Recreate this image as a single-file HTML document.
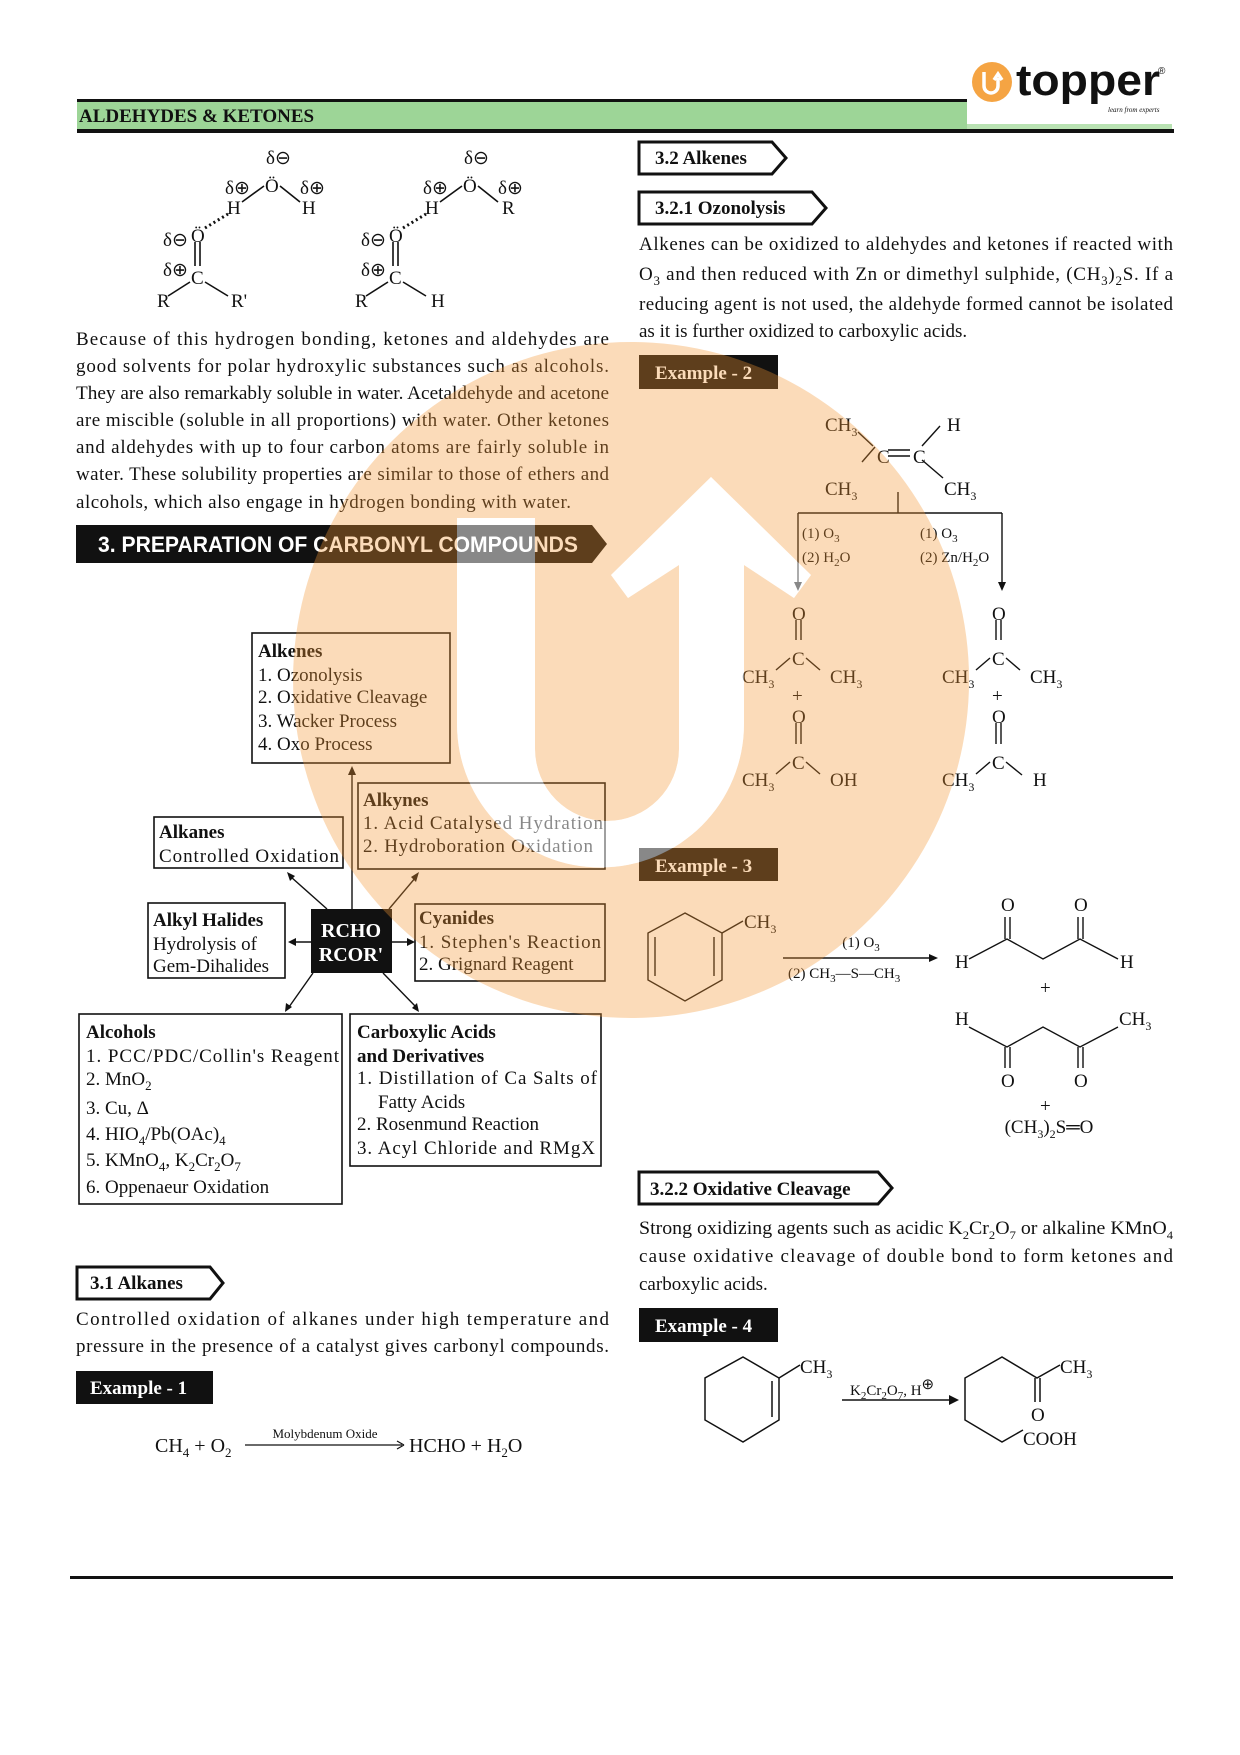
<!DOCTYPE html>
<html><head><meta charset="utf-8"><style>
html,body{margin:0;padding:0;background:#fff;}
svg{display:block;}
text{font-family:"Liberation Serif",serif;fill:#111;}
.b{font-weight:bold;}
.s{font-family:"Liberation Sans",sans-serif;}
</style></head><body>
<svg width="1240" height="1755" viewBox="0 0 1240 1755" xmlns="http://www.w3.org/2000/svg">
<!-- header -->
<rect x="77" y="99" width="890" height="3" fill="#111"/>
<rect x="77" y="102" width="890" height="27" fill="#9dd597"/>
<rect x="967" y="124" width="205" height="5" fill="#b9e2b3"/>
<rect x="77" y="129" width="1097" height="4" fill="#111"/>
<text x="79" y="122" class="b" font-size="19">ALDEHYDES &amp; KETONES</text>
<circle cx="992" cy="82" r="20" fill="#f5a443"/>
<path d="M984,72 V86 A7,7 0 0 0 998,86 V78 M994,80 L998,74 L1002,80" stroke="#fff" stroke-width="3.5" fill="none"/>
<text x="1016" y="95" class="s b" font-size="44" textLength="144" lengthAdjust="spacingAndGlyphs">topper</text>
<text x="1158" y="74" class="s" font-size="10">®</text>
<text x="1108" y="112" font-size="7" font-style="italic">learn from experts</text>

<!-- H-bond structures -->
<g font-size="19" stroke="#111" stroke-width="1.6" fill="none">
<g id="hb1">
<line x1="242" y1="202" x2="264" y2="186"/><line x1="280" y1="186" x2="300" y2="202"/>
<line x1="195" y1="242" x2="195" y2="266"/><line x1="200" y1="242" x2="200" y2="266"/>
<line x1="190" y1="282" x2="168" y2="296"/><line x1="205" y1="282" x2="228" y2="296"/>
<path d="M205,228 L228,214" stroke-dasharray="2,3" stroke-width="3"/>
</g>
<g transform="translate(198,0)">
<line x1="242" y1="202" x2="264" y2="186"/><line x1="280" y1="186" x2="300" y2="202"/>
<line x1="195" y1="242" x2="195" y2="266"/><line x1="200" y1="242" x2="200" y2="266"/>
<line x1="190" y1="282" x2="168" y2="296"/><line x1="205" y1="282" x2="228" y2="296"/>
<path d="M205,228 L228,214" stroke-dasharray="2,3" stroke-width="3"/>
</g>
</g>
<g font-size="19">
<text x="266" y="164">δ⊖</text><text x="265" y="192">Ö</text>
<text x="225" y="194">δ⊕</text><text x="300" y="194">δ⊕</text>
<text x="227" y="214">H</text><text x="302" y="214">H</text>
<text x="191" y="242">Ö</text><text x="163" y="246">δ⊖</text>
<text x="163" y="276">δ⊕</text><text x="191" y="284">C</text>
<text x="157" y="307">R</text><text x="231" y="307">R'</text>
<text x="464" y="164">δ⊖</text><text x="463" y="192">Ö</text>
<text x="423" y="194">δ⊕</text><text x="498" y="194">δ⊕</text>
<text x="425" y="214">H</text><text x="502" y="214">R</text>
<text x="389" y="242">Ö</text><text x="361" y="246">δ⊖</text>
<text x="361" y="276">δ⊕</text><text x="389" y="284">C</text>
<text x="355" y="307">R</text><text x="431" y="307">H</text>
</g>

<!-- left paragraph -->
<g font-size="19">
<text x="76" y="345" textLength="533" lengthAdjust="spacing">Because of this hydrogen bonding, ketones and aldehydes are</text>
<text x="76" y="372" textLength="533" lengthAdjust="spacing">good solvents for polar hydroxylic substances such as alcohols.</text>
<text x="76" y="399" textLength="533" lengthAdjust="spacingAndGlyphs">They are also remarkably soluble in water. Acetaldehyde and acetone</text>
<text x="76" y="426" textLength="533" lengthAdjust="spacing">are miscible (soluble in all proportions) with water. Other ketones</text>
<text x="76" y="453" textLength="533" lengthAdjust="spacing">and aldehydes with up to four carbon atoms are fairly soluble in</text>
<text x="76" y="480" textLength="533" lengthAdjust="spacing">water. These solubility properties are similar to those of ethers and</text>
<text x="76" y="508" textLength="495" lengthAdjust="spacing">alcohols, which also engage in hydrogen bonding with water.</text>
</g>

<!-- banner -->
<path d="M76,525 H592 L607,544 L592,563 H76 Z" fill="#111"/>
<text x="98" y="552" class="s b" font-size="22" fill="#fff" style="fill:#fff" textLength="480" lengthAdjust="spacingAndGlyphs">3.  PREPARATION OF CARBONYL COMPOUNDS</text>

<!-- flowchart boxes -->
<g fill="none" stroke="#111" stroke-width="1.6">
<rect x="252" y="633" width="198" height="130"/>
<rect x="358" y="783" width="247" height="86"/>
<rect x="154" y="817" width="189" height="51"/>
<rect x="148" y="903" width="137" height="75"/>
<rect x="415" y="904" width="190" height="77"/>
<rect x="79" y="1014" width="263" height="190"/>
<rect x="350" y="1014" width="251" height="152"/>
</g>
<rect x="311" y="909" width="81" height="64" fill="#111"/>
<g stroke="#111" stroke-width="1.4">
<line x1="352" y1="909" x2="352" y2="772"/>
<line x1="327" y1="909" x2="291" y2="877"/>
<line x1="389" y1="909" x2="416" y2="877"/>
<line x1="311" y1="942" x2="293" y2="942"/>
<line x1="392" y1="942" x2="410" y2="942"/>
<line x1="313" y1="973" x2="289" y2="1007"/>
<line x1="383" y1="973" x2="416" y2="1007"/>
</g>
<g fill="#111">
<path d="M352,766 l-4,9 h8z"/>
<path d="M287,872 l3,9 l5,-5z"/>
<path d="M419,872 l-8,5 l5,5z"/>
<path d="M288,942 l8,-4 v8z"/>
<path d="M415,942 l-8,-4 v8z"/>
<path d="M285,1012 l1,-9 l6,4z"/>
<path d="M419,1012 l-7,-4 l5,-5z"/>
</g>
<g font-size="19">
<text x="258" y="657" class="b">Alkenes</text>
<text x="258" y="681">1. Ozonolysis</text>
<text x="258" y="703">2. Oxidative Cleavage</text>
<text x="258" y="727">3. Wacker Process</text>
<text x="258" y="750">4. Oxo Process</text>
<text x="363" y="806" class="b">Alkynes</text>
<text x="363" y="829" textLength="240">1. Acid Catalysed Hydration</text>
<text x="363" y="852" textLength="230">2. Hydroboration Oxidation</text>
<text x="159" y="838" class="b">Alkanes</text>
<text x="159" y="862" textLength="180">Controlled Oxidation</text>
<text x="153" y="926" class="b">Alkyl Halides</text>
<text x="153" y="950">Hydrolysis of</text>
<text x="153" y="972">Gem-Dihalides</text>
<text x="351" y="937" class="b" text-anchor="middle" style="fill:#fff" font-size="20">RCHO</text>
<text x="351" y="961" class="b" text-anchor="middle" style="fill:#fff" font-size="20">RCOR'</text>
<text x="419" y="924" class="b">Cyanides</text>
<text x="419" y="948" textLength="182">1. Stephen's Reaction</text>
<text x="419" y="970">2. Grignard Reagent</text>
<text x="86" y="1038" class="b">Alcohols</text>
<text x="86" y="1062" textLength="253">1. PCC/PDC/Collin's Reagent</text>
<text x="86" y="1085">2. MnO<tspan font-size="13" dy="5">2</tspan></text>
<text x="86" y="1114">3. Cu, Δ</text>
<text x="86" y="1140">4. HIO<tspan font-size="13" dy="5">4</tspan><tspan dy="-5">/Pb(OAc)</tspan><tspan font-size="13" dy="5">4</tspan></text>
<text x="86" y="1166">5. KMnO<tspan font-size="13" dy="5">4</tspan><tspan dy="-5">, K</tspan><tspan font-size="13" dy="5">2</tspan><tspan dy="-5">Cr</tspan><tspan font-size="13" dy="5">2</tspan><tspan dy="-5">O</tspan><tspan font-size="13" dy="5">7</tspan></text>
<text x="86" y="1193">6. Oppenaeur Oxidation</text>
<text x="357" y="1038" class="b">Carboxylic Acids</text>
<text x="357" y="1062" class="b">and Derivatives</text>
<text x="357" y="1084" textLength="240">1. Distillation of Ca Salts of</text>
<text x="378" y="1108">Fatty Acids</text>
<text x="357" y="1130">2. Rosenmund Reaction</text>
<text x="357" y="1154" textLength="238">3. Acyl Chloride and RMgX</text>
</g>

<!-- 3.1 Alkanes -->
<path d="M77,1267 H210 L223,1283 L210,1299 H77 Z" fill="#fff" stroke="#111" stroke-width="3"/>
<text x="90" y="1289" class="b" font-size="19">3.1  Alkanes</text>
<g font-size="19">
<text x="76" y="1325" textLength="533" lengthAdjust="spacing">Controlled oxidation of alkanes under high temperature and</text>
<text x="76" y="1352" textLength="533" lengthAdjust="spacing">pressure in the presence of a catalyst gives carbonyl compounds.</text>
</g>
<rect x="76" y="1371" width="137" height="33" fill="#111"/>
<text x="90" y="1394" class="b" font-size="19" style="fill:#fff">Example - 1</text>
<g font-size="20">
<text x="155" y="1452">CH<tspan font-size="13" dy="5">4</tspan><tspan dy="-5"> + O</tspan><tspan font-size="13" dy="5">2</tspan></text>
<text x="409" y="1452">HCHO + H<tspan font-size="13" dy="5">2</tspan><tspan dy="-5">O</tspan></text>
</g>
<line x1="245" y1="1445" x2="402" y2="1445" stroke="#111" stroke-width="1.2"/>
<path d="M404,1445 l-7,-4 M404,1445 l-7,4" stroke="#111" stroke-width="1.2"/>
<text x="325" y="1438" font-size="13" text-anchor="middle">Molybdenum Oxide</text>

<!-- right column -->
<path d="M639,142 H772 L786,158 L772,174 H639 Z" fill="#fff" stroke="#111" stroke-width="3"/>
<text x="655" y="164" class="b" font-size="19">3.2  Alkenes</text>
<path d="M639,192 H812 L826,208 L812,224 H639 Z" fill="#fff" stroke="#111" stroke-width="3"/>
<text x="655" y="214" class="b" font-size="19">3.2.1  Ozonolysis</text>
<g font-size="19">
<text x="639" y="250" textLength="534" lengthAdjust="spacing">Alkenes can be oxidized to aldehydes and ketones if reacted with</text>
<text x="639" y="280" textLength="534" lengthAdjust="spacing">O<tspan font-size="13" dy="5">3</tspan><tspan dy="-5"> and then reduced with Zn or dimethyl sulphide, (CH</tspan><tspan font-size="13" dy="5">3</tspan><tspan dy="-5">)</tspan><tspan font-size="13" dy="5">2</tspan><tspan dy="-5">S. If a</tspan></text>
<text x="639" y="310" textLength="534" lengthAdjust="spacing">reducing agent is not used, the aldehyde formed cannot be isolated</text>
<text x="639" y="337">as it is further oxidized to carboxylic acids.</text>
</g>
<rect x="639" y="355" width="139" height="34" fill="#111"/>
<text x="655" y="379" class="b" font-size="19" style="fill:#fff">Example - 2</text>

<!-- example 2 structure -->
<g stroke="#111" stroke-width="1.4" fill="none">
<line x1="858" y1="432" x2="873" y2="446"/><line x1="862" y1="462" x2="875" y2="447"/>
<line x1="888" y1="450" x2="910" y2="450"/><line x1="888" y1="456" x2="910" y2="456"/>
<line x1="922" y1="446" x2="940" y2="426"/><line x1="922" y1="460" x2="943" y2="478"/>
<line x1="898" y1="492" x2="898" y2="513"/>
<line x1="798" y1="513" x2="1002" y2="513"/>
<line x1="798" y1="513" x2="798" y2="584"/><line x1="1002" y1="513" x2="1002" y2="584"/>
<line x1="796" y1="620" x2="796" y2="640"/><line x1="801" y1="620" x2="801" y2="640"/>
<line x1="790" y1="658" x2="776" y2="670"/><line x1="806" y1="658" x2="820" y2="670"/>
<line x1="796" y1="723" x2="796" y2="744"/><line x1="801" y1="723" x2="801" y2="744"/>
<line x1="790" y1="762" x2="776" y2="774"/><line x1="806" y1="762" x2="820" y2="774"/>
<line x1="996" y1="620" x2="996" y2="640"/><line x1="1001" y1="620" x2="1001" y2="640"/>
<line x1="990" y1="658" x2="976" y2="670"/><line x1="1006" y1="658" x2="1020" y2="670"/>
<line x1="996" y1="723" x2="996" y2="744"/><line x1="1001" y1="723" x2="1001" y2="744"/>
<line x1="990" y1="762" x2="976" y2="774"/><line x1="1006" y1="762" x2="1022" y2="775"/>
</g>
<path d="M798,591 l-4,-9 h8z M1002,591 l-4,-9 h8z" fill="#111"/>
<g font-size="19">
<text x="825" y="431">CH<tspan font-size="12" dy="5">3</tspan></text>
<text x="947" y="431">H</text>
<text x="877" y="463">C</text><text x="913" y="463">C</text>
<text x="825" y="495">CH<tspan font-size="12" dy="5">3</tspan></text>
<text x="944" y="495">CH<tspan font-size="12" dy="5">3</tspan></text>
<text x="792" y="620">O</text><text x="792" y="665">C</text>
<text x="742" y="683">CH<tspan font-size="12" dy="5">3</tspan></text><text x="830" y="683">CH<tspan font-size="12" dy="5">3</tspan></text>
<text x="792" y="702">+</text>
<text x="792" y="723">O</text><text x="792" y="769">C</text>
<text x="742" y="786">CH<tspan font-size="12" dy="5">3</tspan></text><text x="830" y="786">OH</text>
<text x="992" y="620">O</text><text x="992" y="665">C</text>
<text x="942" y="683">CH<tspan font-size="12" dy="5">3</tspan></text><text x="1030" y="683">CH<tspan font-size="12" dy="5">3</tspan></text>
<text x="992" y="702">+</text>
<text x="992" y="723">O</text><text x="992" y="769">C</text>
<text x="942" y="786">CH<tspan font-size="12" dy="5">3</tspan></text><text x="1033" y="786">H</text>
</g>
<g font-size="15">
<text x="802" y="538">(1) O<tspan font-size="11" dy="4">3</tspan></text>
<text x="802" y="562">(2) H<tspan font-size="11" dy="4">2</tspan><tspan dy="-4">O</tspan></text>
<text x="920" y="538">(1) O<tspan font-size="11" dy="4">3</tspan></text>
<text x="920" y="562">(2) Zn/H<tspan font-size="11" dy="4">2</tspan><tspan dy="-4">O</tspan></text>
</g>

<rect x="639" y="848" width="139" height="33" fill="#111"/>
<text x="655" y="872" class="b" font-size="19" style="fill:#fff">Example - 3</text>

<!-- example 3 -->
<g stroke="#111" stroke-width="1.4" fill="none">
<path d="M685,913 L722,933 L722,980 L685,1001 L648,980 L648,933 Z"/>
<line x1="655" y1="937" x2="655" y2="976"/><line x1="714" y1="937" x2="714" y2="976"/>
<line x1="722" y1="933" x2="743" y2="921"/>
<line x1="783" y1="958" x2="932" y2="958"/>
<path d="M969,959 L1007,939 L1043,959 L1080,939 L1118,959"/>
<line x1="1005" y1="939" x2="1005" y2="917"/><line x1="1010" y1="939" x2="1010" y2="917"/>
<line x1="1078" y1="939" x2="1078" y2="917"/><line x1="1083" y1="939" x2="1083" y2="917"/>
<path d="M969,1027 L1007,1047 L1043,1027 L1080,1047 L1118,1027"/>
<line x1="1005" y1="1047" x2="1005" y2="1068"/><line x1="1010" y1="1047" x2="1010" y2="1068"/>
<line x1="1078" y1="1047" x2="1078" y2="1068"/><line x1="1083" y1="1047" x2="1083" y2="1068"/>
</g>
<path d="M938,958 l-9,-4 v8z" fill="#111"/>
<g font-size="19">
<text x="744" y="928">CH<tspan font-size="12" dy="5">3</tspan></text>
<text x="1001" y="911">O</text><text x="1074" y="911">O</text>
<text x="955" y="968">H</text><text x="1120" y="968">H</text>
<text x="1040" y="994">+</text>
<text x="955" y="1025">H</text><text x="1119" y="1025">CH<tspan font-size="12" dy="5">3</tspan></text>
<text x="1001" y="1087">O</text><text x="1074" y="1087">O</text>
<text x="1040" y="1112">+</text>
<text x="1049" y="1133" text-anchor="middle">(CH<tspan font-size="12" dy="5">3</tspan><tspan dy="-5">)</tspan><tspan font-size="12" dy="5">2</tspan><tspan dy="-5">S═O</tspan></text>
</g>
<g font-size="15">
<text x="861" y="947" text-anchor="middle">(1) O<tspan font-size="11" dy="4">3</tspan></text>
<text x="788" y="978">(2) CH<tspan font-size="11" dy="4">3</tspan><tspan dy="-4">—S—CH</tspan><tspan font-size="11" dy="4">3</tspan></text>
</g>

<!-- 3.2.2 -->
<path d="M639,1172 H878 L892,1188 L878,1204 H639 Z" fill="#fff" stroke="#111" stroke-width="3"/>
<text x="650" y="1195" class="b" font-size="19">3.2.2  Oxidative Cleavage</text>
<g font-size="19">
<text x="639" y="1234" textLength="534" lengthAdjust="spacingAndGlyphs">Strong oxidizing agents such as acidic K<tspan font-size="12" dy="5">2</tspan><tspan dy="-5">Cr</tspan><tspan font-size="12" dy="5">2</tspan><tspan dy="-5">O</tspan><tspan font-size="12" dy="5">7</tspan><tspan dy="-5"> or alkaline KMnO</tspan><tspan font-size="12" dy="5">4</tspan></text>
<text x="639" y="1262" textLength="534" lengthAdjust="spacing">cause oxidative cleavage of double bond to form ketones and</text>
<text x="639" y="1290">carboxylic acids.</text>
</g>
<rect x="639" y="1308" width="139" height="34" fill="#111"/>
<text x="655" y="1332" class="b" font-size="19" style="fill:#fff">Example - 4</text>

<!-- example 4 -->
<g stroke="#111" stroke-width="1.5" fill="none">
<path d="M743,1357 L779,1378 L779,1420 L743,1442 L705,1420 L705,1378 Z"/>
<line x1="772" y1="1381" x2="772" y2="1417"/>
<line x1="779" y1="1378" x2="800" y2="1365"/>
<line x1="842" y1="1400" x2="952" y2="1400"/>
<path d="M1023,1430 L1002,1442 L965,1420 L965,1378 L1002,1357 L1037,1378 L1060,1365"/>
<line x1="1035" y1="1378" x2="1035" y2="1402"/><line x1="1040" y1="1378" x2="1040" y2="1402"/>
</g>
<path d="M959,1400 l-10,-5 v10z" fill="#111"/>
<g font-size="19">
<text x="800" y="1373">CH<tspan font-size="12" dy="5">3</tspan></text>
<text x="1060" y="1373">CH<tspan font-size="12" dy="5">3</tspan></text>
<text x="1031" y="1421">O</text>
<text x="1023" y="1445">COOH</text>
</g>
<text x="850" y="1395" font-size="15">K<tspan font-size="11" dy="4">2</tspan><tspan dy="-4">Cr</tspan><tspan font-size="11" dy="4">2</tspan><tspan dy="-4">O</tspan><tspan font-size="11" dy="4">7</tspan><tspan dy="-4">, H</tspan><tspan dy="-6" font-size="15">⊕</tspan></text>

<!-- bottom rule -->
<rect x="70" y="1576" width="1103" height="3" fill="#111"/>

<!-- watermark -->
<path fill-rule="evenodd" fill="rgba(243,150,50,0.34)" d="M631,342 A338,338 0 1 0 631.1,342 Z M457,518 H535 V749 A72,72 0 0 0 679,749 V565 L628,598 L611,575 L711,477 L811,575 L794,598 L744,565 V724 A143.5,143.5 0 0 1 457,724 Z"/>
<path fill="rgba(255,255,255,0.5)" d="M457,518 H535 V749 A72,72 0 0 0 679,749 V565 L628,598 L611,575 L711,477 L811,575 L794,598 L744,565 V724 A143.5,143.5 0 0 1 457,724 Z"/>
</svg>
</body></html>
